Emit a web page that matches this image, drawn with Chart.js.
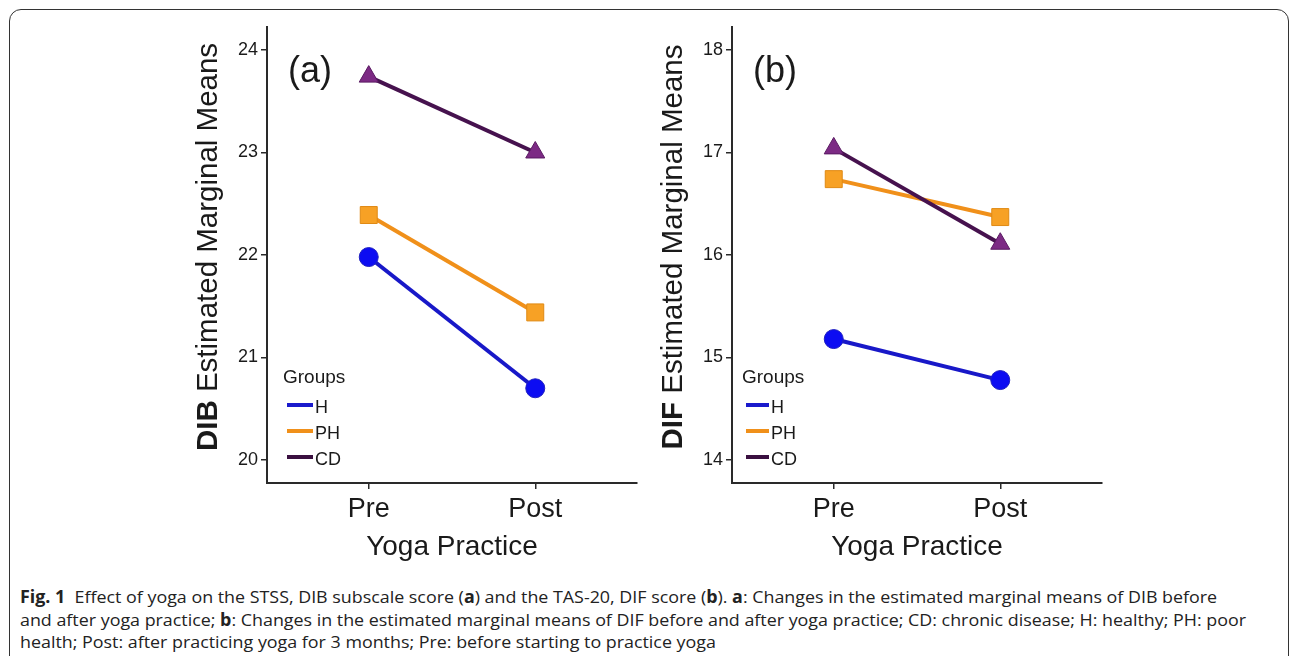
<!DOCTYPE html>
<html>
<head>
<meta charset="utf-8">
<script src="https://cdn.jsdelivr.net/npm/chart.js@4"></script>
<style>
  html, body { margin: 0; padding: 0; background: #fff; width: 1292px; height: 656px; overflow: hidden; }
  #frame { position: absolute; left: 9px; top: 9px; width: 1278px; height: 720px; border: 1.5px solid #333; border-radius: 12px; }
  canvas { position: absolute; top: 0; }
  #chartA { left: 140px; }
  #chartB { left: 605px; }
  #caption { position: absolute; left: 20px; top: 586px; font-family: "Open Sans", sans-serif; font-size: 17px;
             color: #222; line-height: 22.5px; transform-origin: 0 0; white-space: nowrap; }
</style>
</head>
<body>
<div id="frame"></div>
<canvas id="chartA" width="510" height="580"></canvas>
<canvas id="chartB" width="510" height="580"></canvas>
<div id="caption">
  <div id="cap1"><b>Fig. 1</b>&nbsp;&nbsp;Effect of yoga on the STSS, DIB subscale score (<b>a</b>) and the TAS-20, DIF score (<b>b</b>). <b>a</b>: Changes in the estimated marginal means of DIB before</div>
  <div id="cap2">and after yoga practice; <b>b</b>: Changes in the estimated marginal means of DIF before and after yoga practice; CD: chronic disease; H: healthy; PH: poor</div>
  <div id="cap3">health; Post: after practicing yoga for 3 months; Pre: before starting to practice yoga</div>
</div>
<script>
// data
const categories = ['Pre', 'Post'];
const groups = ['H', 'PH', 'CD'];

const dibH = [21.98, 20.70];
const dibPH = [22.39, 21.44];
const dibCD = [23.74, 23.00];

const difH = [15.18, 14.78];
const difPH = [16.74, 16.37];
const difCD = [17.04, 16.11];

const ticksA = [20, 21, 22, 23, 24];
const ticksB = [14, 15, 16, 17, 18];

// styles
const FONT = '"Liberation Sans", Arial, sans-serif';
const lineColors = ['#1818c8', '#f0901a', '#46124e'];
const legendColors = ['#1a1acc', '#f0901a', '#3a1040'];
const fillColors = ['#0c0cf2', '#f7a125', '#7c2a84'];
const edgeColors = ['#2020c0', '#e08a14', '#5a1a62'];
const shapes = ['circle', 'rect', 'triangle'];
const radii = [9.5, 12, 11];

const decor = {
    id: 'decor',
    afterDraw(chart, args, opts) {
        const {ctx, chartArea: a} = chart;
        ctx.save();
        ctx.fillStyle = '#1a1a1a';
        ctx.textAlign = 'left';
        ctx.textBaseline = 'middle';

        // panel label
        ctx.font = '36px ' + FONT;
        ctx.fillText(opts.panel, a.left + opts.px, a.top + 45);

        // legend
        ctx.font = '19px ' + FONT;
        ctx.fillText('Groups', a.left + opts.lx, a.bottom - 105);
        chart.data.datasets.forEach((ds, i) => {
            const y = a.bottom - 78 + i * 26;
            ctx.strokeStyle = legendColors[i];
            ctx.lineWidth = 4;
            ctx.beginPath();
            ctx.moveTo(a.left + opts.lx + 4, y);
            ctx.lineTo(a.left + opts.lx + 4 + opts.ll, y);
            ctx.stroke();
            ctx.font = '18px ' + FONT;
            ctx.fillText(ds.label, a.left + opts.lx + 6 + opts.ll, y + 3);
        });

        // y axis title, first word bold
        ctx.translate(a.left - 58, (a.top + a.bottom) / 2 - 8);
        ctx.rotate(-Math.PI / 2);
        const bold = 'bold 29.5px ' + FONT;
        const reg = '29.5px ' + FONT;
        ctx.font = bold;
        const w1 = ctx.measureText(opts.yBold).width;
        ctx.font = reg;
        const w2 = ctx.measureText(opts.yRest).width;
        const x0 = -(w1 + w2) / 2;
        ctx.font = bold;
        ctx.fillText(opts.yBold, x0, 0);
        ctx.font = reg;
        ctx.fillText(opts.yRest, x0 + w1, 0);
        ctx.restore();
    }
};

function makeChart(id, series, ticks, opts) {
    return new Chart(document.getElementById(id), {
        type: 'line',
        data: {
            datasets: groups.map((g, i) => ({
                label: g,
                data: categories.map((c, j) => ({x: j, y: series[i][j]})),
                borderColor: lineColors[i],
                borderWidth: 4,
                pointStyle: shapes[i],
                pointRadius: radii[i],
                pointBackgroundColor: fillColors[i],
                pointBorderColor: edgeColors[i],
                pointBorderWidth: 1,
                order: 2 - i
            }))
        },
        options: {
            responsive: false,
            animation: false,
            layout: {padding: {top: 27, right: 12, bottom: 0, left: 0}},
            plugins: {
                legend: {display: false},
                tooltip: {enabled: false},
                decor: opts
            },
            scales: {
                x: {
                    type: 'linear',
                    min: -0.611,
                    max: 1.611,
                    afterBuildTicks: s => { s.ticks = categories.map((c, j) => ({value: j})); },
                    afterFit: s => { s.height = 97; },
                    ticks: {
                        callback: v => categories[v],
                        font: {size: 27, family: FONT},
                        color: '#1a1a1a',
                        padding: 4,
                        maxRotation: 0,
                        autoSkip: false
                    },
                    grid: {drawOnChartArea: false, tickLength: 6, color: '#2a2a2a', lineWidth: 1.5},
                    border: {color: '#2a2a2a', width: 2},
                    title: {
                        display: true,
                        text: 'Yoga Practice',
                        font: {size: 28, family: FONT},
                        color: '#1a1a1a',
                        padding: {top: 0, bottom: 16}
                    }
                },
                y: {
                    type: 'linear',
                    min: ticks[0] - 0.224,
                    max: ticks[ticks.length - 1] + 0.224,
                    afterBuildTicks: s => { s.ticks = ticks.map(v => ({value: v})); },
                    afterFit: s => { s.width = 127; },
                    ticks: {font: {size: 18, family: FONT}, color: '#1a1a1a', padding: 3},
                    grid: {drawOnChartArea: false, tickLength: 6, color: '#2a2a2a', lineWidth: 1.5},
                    border: {color: '#2a2a2a', width: 2}
                }
            }
        },
        plugins: [decor]
    });
}

makeChart('chartA', [dibH, dibPH, dibCD], ticksA,
    {panel: '(a)', px: 21, lx: 16, ll: 26, yBold: 'DIB', yRest: ' Estimated Marginal Means'});
makeChart('chartB', [difH, difPH, difCD], ticksB,
    {panel: '(b)', px: 21, lx: 10, ll: 23, yBold: 'DIF', yRest: ' Estimated Marginal Means'});

// squeeze caption so its lines break where the figure's do
function fitCaption() {
    const cap = document.getElementById('caption');
    cap.style.transform = 'none';
    const r = document.createRange();
    r.selectNodeContents(document.getElementById('cap2'));
    const tw = r.getBoundingClientRect().width;
    if (tw > 0) cap.style.transform = 'scaleX(' + (1226 / tw) + ')';
}
fitCaption();
if (document.fonts) document.fonts.ready.then(fitCaption);
</script>
</body>
</html>
